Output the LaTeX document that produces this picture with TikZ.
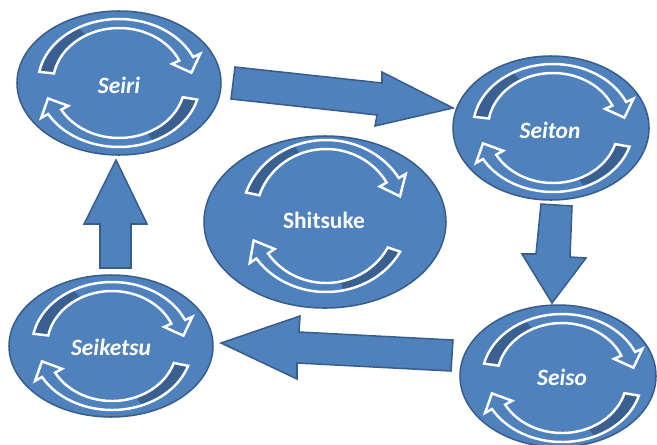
\documentclass[tikz,border=0pt]{standalone}
\usepackage{fontspec}
\setmainfont{Carlito}
\usetikzlibrary{shapes.geometric}
\definecolor{blobfill}{RGB}{79,129,189}
\definecolor{blobline}{RGB}{56,93,138}
\definecolor{ringdark}{RGB}{58,96,145}
\tikzset{
 blob/.style={ellipse, fill=blobfill, draw=blobline, line width=1.3pt, inner sep=0pt},
 lbl/.style={text=white, font=\fontsize{20}{24}\selectfont\bfseries\itshape},
 lblup/.style={text=white, font=\fontsize{20}{24}\selectfont\bfseries},
 blockarrow/.style={fill=blobfill, draw=blobline, line width=1.3pt, line join=miter},
 ringline/.style={draw=white, line width=2.1pt, line join=miter},
}
\newcommand\ringshape[8]{plot[domain=#7:#8,samples=40] ({#1+#3*cos(\x)},{#2+#4*sin(\x)}) -- ({#1+(#3+8)*cos(#8)},{#2+(#4+8)*sin(#8)}) -- ({#1+(#3+#5)/2*cos(#8+14)},{#2+(#4+#6)/2*sin(#8+14)}) -- ({#1+(#5-8)*cos(#8)},{#2+(#6-8)*sin(#8)}) -- plot[domain=#8:#7,samples=40] ({#1+#5*cos(\x)},{#2+#6*sin(\x)}) -- cycle}
\newcommand\ringarrow[8]{%
 \pgfmathsetmacro\rdark{#7+50}%
 \fill[blobfill] \ringshape{#1}{#2}{#3}{#4}{#5}{#6}{#7}{#8};
 \fill[ringdark] plot[domain=#7:\rdark,samples=20] ({#1+#3*cos(\x)},{#2+#4*sin(\x)}) -- plot[domain=\rdark:#7,samples=20] ({#1+#5*cos(\x)},{#2+#6*sin(\x)}) -- cycle;
 \draw[ringline] \ringshape{#1}{#2}{#3}{#4}{#5}{#6}{#7}{#8};
}
\begin{document}
\begin{tikzpicture}[x=0.03cm,y=-0.03cm]
\useasboundingbox (0,0) rectangle (657,444);
\clip (0,0) rectangle (657,444);
% ellipses
\node[blob, minimum width=204*0.03cm, minimum height=144*0.03cm] (seiri) at (119,83) {};
\node[blob, minimum width=196*0.03cm, minimum height=144*0.03cm] (seiton) at (551,128) {};
\node[blob, minimum width=242*0.03cm, minimum height=172*0.03cm] (shitsuke) at (325,222) {};
\node[blob, minimum width=204*0.03cm, minimum height=142*0.03cm] (seiketsu) at (111,346) {};
\node[blob, minimum width=196*0.03cm, minimum height=142*0.03cm] (seiso) at (558,376) {};
% ring arrows
\ringarrow{119}{83}{81}{64}{66}{55}{190}{336}
\ringarrow{119}{83}{81}{64}{66}{55}{15}{151}
\ringarrow{553}{128}{80}{64}{65}{55}{190}{336}
\ringarrow{553}{128}{80}{64}{65}{55}{17}{151}
\ringarrow{326}{216}{84}{76}{70}{67}{198}{330}
\ringarrow{326}{216}{84}{76}{70}{67}{28}{146}
\ringarrow{112}{346}{80}{64}{65}{55}{191}{336}
\ringarrow{112}{346}{80}{64}{65}{55}{18}{151}
\ringarrow{562}{378}{80}{64}{65}{55}{193}{336}
\ringarrow{562}{378}{80}{64}{65}{55}{16}{151}
% labels
\node[lbl] (tseiri) at (119,85) {Seiri};
\node[lbl] (tseiton) at (550,130) {Seiton};
\node[lblup] (tshitsuke) at (324,220) {Shitsuke};
\node[lbl] (tseiketsu) at (111,347) {Seiketsu};
\node[lbl] (tseiso) at (562,377) {Seiso};
% block arrows
\draw[blockarrow] (235,67) -- (382,83) -- (382,72) -- (453,108) -- (375,126) -- (377,115) -- (231,99) -- cycle;
\draw[blockarrow] (541,204) -- (572,206) -- (570,257) -- (586,258) -- (552,303) -- (522,254) -- (536,254) -- cycle;
\draw[blockarrow] (453,340) -- (299,332) -- (300,316) -- (221,343) -- (297,379) -- (297,363) -- (451,371) -- cycle;
\draw[blockarrow] (116,160) -- (147,224) -- (131,224) -- (131,268) -- (100,268) -- (100,224) -- (84,224) -- cycle;
\end{tikzpicture}
\end{document}
